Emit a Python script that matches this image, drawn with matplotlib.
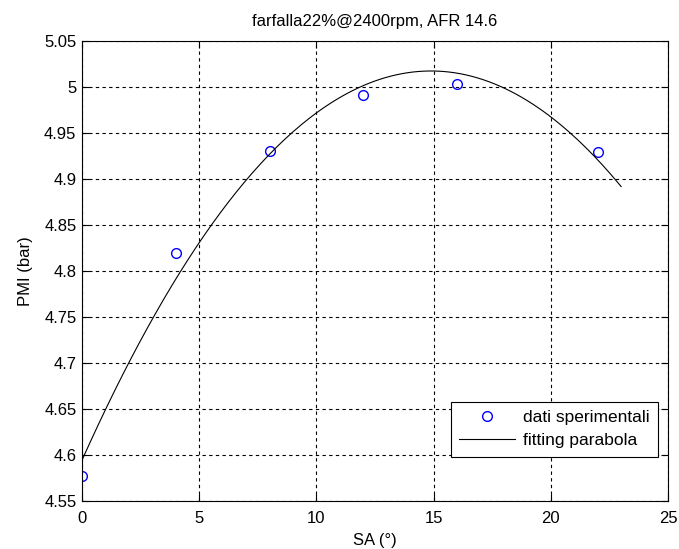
import numpy as np
import matplotlib
matplotlib.use("Agg")
import matplotlib.pyplot as plt

plt.rcParams["font.family"] = ["Liberation Sans", "DejaVu Sans"]

# measured points
sa = np.array([0, 4, 8, 12, 16, 22])
pmi = np.array([4.577, 4.820, 4.930, 4.991, 5.003, 4.929])

# second order fit over the measured range
coef = np.polyfit(sa, pmi, 2)
sa_fit = np.linspace(0, 23, 200)
pmi_fit = np.polyval(coef, sa_fit)

xticks = [0, 5, 10, 15, 20, 25]
yticks = [4.55, 4.6, 4.65, 4.7, 4.75, 4.8, 4.85, 4.9, 4.95, 5.0, 5.05]
ytick_labels = ["4.55", "4.6", "4.65", "4.7", "4.75", "4.8", "4.85",
                "4.9", "4.95", "5", "5.05"]

fs = 12

fig = plt.figure(figsize=(6.79, 5.49), dpi=100)
ax = fig.add_axes([0.1208, 0.0874, 0.8630, 0.8379])

ax.plot(sa, pmi, "o", mfc="none", mec="blue", ms=7, mew=1.0,
        label="dati sperimentali")
ax.plot(sa_fit, pmi_fit, "-", color="black", lw=0.8,
        label="fitting parabola")

ax.set_xlim(0, 25)
ax.set_ylim(4.55, 5.05)
ax.set_xticks(xticks)
ax.set_yticks(yticks)
ax.set_yticklabels(ytick_labels)
ax.tick_params(direction="in", top=True, right=True, labelsize=fs,
               length=5, width=0.8)
ax.tick_params(axis="x", pad=7)
ax.tick_params(axis="y", pad=4)
for s in ax.spines.values():
    s.set_linewidth(0.8)

ax.grid(True, color="black", lw=0.8, linestyle=(0, (3, 3)))

ax.set_title("farfalla22%@2400rpm, AFR 14.6", fontsize=fs, pad=11)
ax.set_xlabel("SA (°)", fontsize=fs, labelpad=5)
ax.set_ylabel("PMI (bar)", fontsize=fs, labelpad=8)

leg = ax.legend(loc="lower right", bbox_to_anchor=(0.9829, 0.0957),
                fontsize=12.5, fancybox=False, framealpha=1,
                edgecolor="black", borderpad=0.5, handlelength=3.2,
                handletextpad=0.45, labelspacing=0.45, borderaxespad=0)
leg.get_frame().set_linewidth(0.8)

fig.savefig("out.png", dpi=100)
